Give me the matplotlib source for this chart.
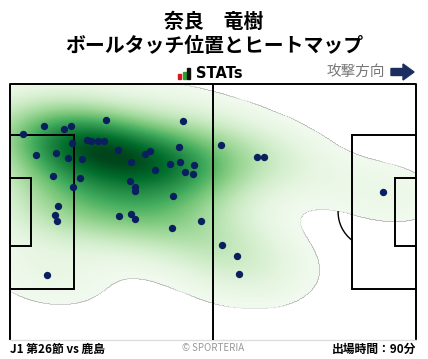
import numpy as np
import matplotlib
matplotlib.use("Agg")
import matplotlib.pyplot as plt
from matplotlib.patches import Rectangle, Arc, Polygon
from matplotlib.colors import ListedColormap

plt.rcParams['font.family'] = ['Noto Sans CJK JP', 'DejaVu Sans']

# Ball touch positions (metres, x along a 105 m pitch, y from the top touchline of 68 m)
touch_x = [3.44, 8.87, 14.04, 15.78, 24.90, 44.74, 16.03, 19.99, 21.02, 22.83,
           24.39, 6.80, 11.97, 15.08, 18.70, 28.01, 31.37, 34.99, 36.28, 43.78,
           44.04, 41.45, 37.58, 45.33, 47.66, 47.40, 11.20, 18.18, 16.37, 31.11,
           32.40, 32.40, 42.23, 12.49, 11.71, 12.23, 28.27, 31.37, 32.40, 41.97,
           49.47, 9.65, 54.64, 63.95, 65.76, 54.90, 58.78, 59.30, 96.54]
touch_y = [13.36, 11.24, 12.03, 11.24, 9.64, 9.91, 15.75, 14.95, 15.22, 15.22,
           15.22, 18.94, 18.41, 19.73, 20.00, 17.61, 20.80, 18.67, 17.88, 16.81,
           20.72, 21.33, 22.92, 23.45, 21.59, 23.98, 24.51, 25.05, 27.44, 25.84,
           27.44, 28.50, 29.83, 32.48, 34.87, 36.47, 35.14, 34.61, 35.94, 38.33,
           36.47, 50.81, 16.28, 19.47, 19.47, 42.84, 45.76, 50.54, 28.76]

player_name = "奈良　竜樹"
chart_title = "ボールタッチ位置とヒートマップ"
match_label = "J1 第26節 vs 鹿島"
minutes_label = "出場時間：90分"

L, W = 105.0, 68.0

fig = plt.figure(figsize=(4.28, 3.59), dpi=100)
ax = fig.add_axes([10 / 428, (359 - 340) / 359, 406 / 428, 256 / 359])
ax.axis('off')

# Gaussian KDE (Scott's rule, slightly widened)
pts = np.vstack([touch_x, touch_y])
n = pts.shape[1]
factor = n ** (-1.0 / 6.0) * 1.2
cov = np.cov(pts) * factor ** 2
inv = np.linalg.inv(cov)
norm = 1.0 / (2 * np.pi * np.sqrt(np.linalg.det(cov)) * n)


def kde(X, Y):
    dx = X[..., None] - pts[0]
    dy = Y[..., None] - pts[1]
    q = inv[0, 0] * dx * dx + 2 * inv[0, 1] * dx * dy + inv[1, 1] * dy * dy
    return norm * np.exp(-0.5 * q).sum(axis=-1)


# wide support grid for the iso-proportion scale
wx = np.linspace(-40, L + 40, 400)
wy = np.linspace(-30, W + 30, 260)
WX, WY = np.meshgrid(wx, wy)
Zw = kde(WX, WY).ravel()
order = np.sort(Zw)
mass = np.cumsum(order)
mass /= mass[-1]

# display grid over the pitch
gx = np.linspace(0, L, 420)
gy = np.linspace(0, W, 272)
GX, GY = np.meshgrid(gx, gy)
Z = kde(GX, GY)
P = np.interp(Z, order, mass)  # share of mass lying at lower density

thresh = 0.03
Pm = np.ma.masked_less(P, thresh)
greens = plt.get_cmap('Greens')
cmap = ListedColormap(greens(np.linspace(0.04, 1.0, 256)))

lc = 'black'
lw = 1.4
# markings that sit beneath the heat layer
ax.add_patch(Arc((L / 2, W / 2), 18.3, 18.3 * 1.03, color=lc, lw=1.0, zorder=1))
ax.add_patch(Arc((11, W / 2), 18.3, 18.3 * 1.03, theta1=-53, theta2=53, color=lc, lw=1.0, zorder=1))
ax.add_patch(Arc((L - 11, W / 2), 18.3, 18.3 * 1.03, theta1=127, theta2=233, color=lc, lw=1.0, zorder=1))

ax.imshow(Pm, extent=(0, L, W, 0), origin='upper', cmap=cmap, vmin=thresh, vmax=1.0,
          interpolation='bilinear', aspect='auto', zorder=2)
ax.set_xlim(0, L)
ax.set_ylim(W, 0)

# pitch lines on top
ax.plot([0, 0, L, L], [W, 0, 0, W], color=lc, lw=lw, zorder=3, clip_on=False, solid_capstyle='butt')
ax.plot([0, L], [W, W], color='#dddddd', lw=1.0, zorder=3, clip_on=False)
ax.plot([L / 2, L / 2], [0, W], color=lc, lw=lw, zorder=3)
pa_w, pa_d = 40.3 * 1.01, 16.5
ga_w, ga_d = 18.32, 5.5
for x0, d in [(0, pa_d), (L - pa_d, pa_d)]:
    ax.add_patch(Rectangle((x0, W / 2 - pa_w / 2), d, pa_w, fill=False, ec=lc, lw=lw, zorder=3))
for x0, d in [(0, ga_d), (L - ga_d, ga_d)]:
    ax.add_patch(Rectangle((x0, W / 2 - ga_w / 2), d, ga_w, fill=False, ec=lc, lw=lw, zorder=3))

ax.scatter(touch_x, touch_y, s=28, color='#0a1f5e', zorder=4, linewidths=0)

# header
fig.text(214 / 428, 1 - 21 / 359, player_name, ha='center', va='center',
         fontsize=14.3, fontweight='bold')
fig.text(214 / 428, 1 - 46 / 359, chart_title, ha='center', va='center',
         fontsize=14.3, fontweight='bold')

# STATs logo
bars = [(178, 4, '#d7191c'), (182.5, 6.5, '#2ca02c'), (187, 10, '#111111')]
for bx, bh, bc in bars:
    fig.patches.append(Rectangle((bx / 428, 1 - 78.5 / 359), 3.2 / 428, bh / 359,
                                 transform=fig.transFigure, color=bc))
fig.text(196 / 428, 1 - 73 / 359, "STATs", ha='left', va='center',
         fontsize=10.5, fontweight='bold', family=['DejaVu Sans'])

fig.text(385 / 428, 1 - 72 / 359, "攻撃方向", ha='right', va='center',
         fontsize=10.5, color='#777777')
arrow = Polygon([(391, 68.5), (403, 68.5), (403, 64), (414, 72), (403, 80), (403, 75.5), (391, 75.5)],
                closed=True, color='#1b2d5e')
arrow.set_xy([(x / 428, 1 - y / 359) for x, y in arrow.get_xy()])
arrow.set_transform(fig.transFigure)
fig.patches.append(arrow)

# footer
fig.text(10 / 428, 1 - 349 / 359, match_label, ha='left', va='center',
         fontsize=8.5, fontweight='bold')
fig.text(213 / 428, 1 - 348 / 359, "© SPORTERIA", ha='center', va='center',
         fontsize=7, color='#999999')
fig.text(416 / 428, 1 - 349 / 359, minutes_label, ha='right', va='center',
         fontsize=8.5, fontweight='bold')

fig.savefig('out.png', dpi=100, facecolor='white')
